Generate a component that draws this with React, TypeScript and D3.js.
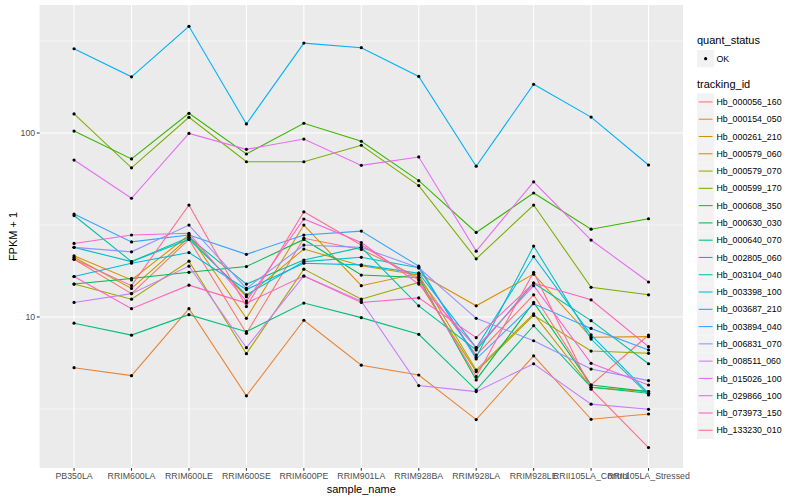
import React from "react";
import * as d3 from "d3";

const samples = [
  "PB350LA", "RRIM600LA", "RRIM600LE", "RRIM600SE", "RRIM600PE", "RRIM901LA",
  "RRIM928BA", "RRIM928LA", "RRIM928LE", "RRII105LA_Control", "RRII105LA_Stressed",
];

const trackingIds = [
  "Hb_000056_160", "Hb_000154_050", "Hb_000261_210", "Hb_000579_060", "Hb_000579_070",
  "Hb_000599_170", "Hb_000608_350", "Hb_000630_030", "Hb_000640_070", "Hb_002805_060",
  "Hb_003104_040", "Hb_003398_100", "Hb_003687_210", "Hb_003894_040", "Hb_006831_070",
  "Hb_008511_060", "Hb_015026_100", "Hb_029866_100", "Hb_073973_150", "Hb_133230_010",
];

const colors = [
  "#F8766D", "#EA8331", "#D89000", "#C09B00", "#A3A500", "#7CAE00", "#39B600", "#00BB4E",
  "#00BF7D", "#00C1A3", "#00BFC4", "#00BAE0", "#00B0F6", "#35A2FF", "#9590FF", "#C77CFF",
  "#E76BF3", "#FA62DB", "#FF62BC", "#FF6C91",
];

// FPKM + 1 per sample, in the order of `samples`
const hb_000056_160 = [20.6, 13.4, 26.4, 8.15, 26.8, 23.3, 16.4, 6.21, 13.2, 4.27, 7.98];
const hb_000154_050 = [5.3, 4.8, 11.1, 3.73, 9.6, 5.47, 4.84, 2.77, 6.15, 2.78, 2.97];
const hb_000261_210 = [21.5, 15.9, 27.9, 9.84, 31.6, 14.8, 17.3, 11.5, 17.1, 7.76, 7.82];
const hb_000579_060 = [21.1, 14.3, 27.1, 12.9, 23.4, 19.0, 16.9, 5.15, 10.4, 4.15, 3.93];
const hb_000579_070 = [15.1, 12.5, 20.1, 6.32, 18.2, 12.5, 15.4, 5.05, 10.2, 6.53, 6.35];
const hb_000599_170 = [127, 64.7, 121.7, 69.8, 69.8, 85.8, 51.8, 20.7, 40.6, 14.5, 13.2];
const hb_000608_350 = [102.5, 72.3, 128, 76.9, 113, 90.2, 55.1, 28.8, 47.2, 30.0, 34.2];
const hb_000630_030 = [15.1, 16.2, 17.5, 18.8, 26.4, 16.9, 16.4, 4.55, 12.0, 4.27, 3.93];
const hb_000640_070 = [9.25, 7.97, 10.3, 8.32, 11.9, 9.92, 8.05, 4.01, 8.97, 4.15, 3.85];
const hb_002805_060 = [35.6, 20.0, 27.1, 15.1, 20.4, 23.9, 11.5, 6.62, 15.3, 9.55, 5.57];
const hb_003104_040 = [23.9, 20.0, 26.4, 13.2, 20.0, 21.1, 18.5, 6.04, 24.3, 7.59, 3.77];
const hb_003398_100 = [16.6, 19.6, 22.4, 14.1, 19.6, 19.2, 17.3, 6.81, 21.3, 8.0, 3.85];
const hb_003687_210 = [287, 202, 380, 112, 308, 291, 203, 66, 184, 122, 67];
const hb_003894_040 = [36.3, 25.6, 27.9, 21.9, 27.9, 29.3, 18.9, 5.91, 11.8, 8.67, 6.62];
const hb_006831_070 = [23.9, 22.6, 31.6, 14.3, 24.6, 23.9, 18.5, 9.84, 7.43, 5.21, 4.51];
const hb_008511_060 = [12.0, 13.4, 18.9, 6.81, 16.7, 12.2, 4.24, 3.93, 5.57, 3.36, 3.15];
const hb_015026_100 = [71.3, 44.2, 99.5, 81.5, 92.7, 66.7, 74.1, 22.8, 54.3, 26.2, 15.5];
const hb_029866_100 = [25.1, 27.9, 28.5, 12.2, 34.1, 25.4, 15.1, 6.81, 14.8, 5.6, 4.27];
const hb_073973_150 = [16.6, 11.1, 14.9, 11.9, 16.7, 12.0, 12.7, 7.72, 15.3, 12.4, 6.9];
const hb_133230_010 = [20.6, 14.8, 40.6, 11.4, 37.3, 24.6, 15.9, 4.74, 17.5, 4.05, 1.95];

const seriesValues = [
  hb_000056_160, hb_000154_050, hb_000261_210, hb_000579_060, hb_000579_070,
  hb_000599_170, hb_000608_350, hb_000630_030, hb_000640_070, hb_002805_060,
  hb_003104_040, hb_003398_100, hb_003687_210, hb_003894_040, hb_006831_070,
  hb_008511_060, hb_015026_100, hb_029866_100, hb_073973_150, hb_133230_010,
];

const yTicks = [10, 100];
const yMinor = [Math.pow(10, 0.5), Math.pow(10, 1.5), Math.pow(10, 2.5)];

const FONT = "'Liberation Sans', Arial, Helvetica, sans-serif";

export default function App() {
  const W = 800, H = 500;
  const panel = { left: 39.6, right: 683, top: 5, bottom: 468 };

  const x = d3.scalePoint<string>().domain(samples).range([panel.left, panel.right]).padding(0.6);
  const y = d3.scaleLog().domain([1.511, 496.3]).range([panel.bottom, panel.top]);

  const line = d3
    .line<number>()
    .x((_, i) => x(samples[i]) as number)
    .y((v) => y(v));

  const legendX = 697;
  const keySize = 17.28;
  const tkTop = 93.3;

  return (
    <svg
      width={W}
      height={H}
      style={{ position: "absolute", left: 0, top: 0, background: "#FFFFFF" }}
      fontFamily={FONT}
    >
      <rect x={0} y={0} width={W} height={H} fill="#FFFFFF" />
      <rect
        x={panel.left}
        y={panel.top}
        width={panel.right - panel.left}
        height={panel.bottom - panel.top}
        fill="#EBEBEB"
      />
      {yMinor.map((t) => (
        <line key={"mn" + t} x1={panel.left} x2={panel.right} y1={y(t)} y2={y(t)} stroke="#FFFFFF" strokeWidth={0.53} />
      ))}
      {yTicks.map((t) => (
        <line key={"mj" + t} x1={panel.left} x2={panel.right} y1={y(t)} y2={y(t)} stroke="#FFFFFF" strokeWidth={1.07} />
      ))}
      {samples.map((s) => (
        <line key={"vx" + s} x1={x(s)} x2={x(s)} y1={panel.top} y2={panel.bottom} stroke="#FFFFFF" strokeWidth={1.07} />
      ))}

      {seriesValues.map((vals, i) => (
        <path key={"l" + i} d={line(vals) || ""} fill="none" stroke={colors[i]} strokeWidth={1.07} />
      ))}
      {seriesValues.map((vals, i) =>
        vals.map((v, j) => (
          <circle key={"p" + i + "-" + j} cx={x(samples[j])} cy={y(v)} r={1.6} fill="#000000" />
        ))
      )}

      {/* y axis */}
      {yTicks.map((t) => (
        <g key={"yt" + t}>
          <line x1={panel.left - 2.74} x2={panel.left} y1={y(t)} y2={y(t)} stroke="#333333" strokeWidth={1.07} />
          <text x={panel.left - 4.4} y={y(t)} dy="0.35em" textAnchor="end" fontSize={8.8} fill="#4D4D4D">
            {t}
          </text>
        </g>
      ))}
      {/* x axis */}
      {samples.map((s) => (
        <g key={"xt" + s}>
          <line x1={x(s)} x2={x(s)} y1={panel.bottom} y2={panel.bottom + 2.74} stroke="#333333" strokeWidth={1.07} />
          <text x={x(s)} y={panel.bottom + 11.3} textAnchor="middle" fontSize={8.8} fill="#4D4D4D">
            {s}
          </text>
        </g>
      ))}
      <text x={(panel.left + panel.right) / 2} y={493} textAnchor="middle" fontSize={11} fill="#000000">
        sample_name
      </text>
      <text
        transform={`translate(16.5, ${(panel.top + panel.bottom) / 2}) rotate(-90)`}
        textAnchor="middle"
        fontSize={11}
        fill="#000000"
      >
        FPKM + 1
      </text>

      {/* legend: quant_status */}
      <text x={legendX} y={44} fontSize={11} fill="#000000">quant_status</text>
      <rect x={legendX} y={50} width={keySize} height={keySize} fill="#F2F2F2" />
      <circle cx={legendX + keySize / 2} cy={50 + keySize / 2} r={1.6} fill="#000000" />
      <text x={legendX + keySize + 2.2} y={50 + keySize / 2} dy="0.35em" fontSize={8.8} fill="#000000">OK</text>

      {/* legend: tracking_id */}
      <text x={legendX} y={88} fontSize={11} fill="#000000">tracking_id</text>
      {trackingIds.map((id, i) => {
        const ty = tkTop + i * keySize;
        return (
          <g key={"lg" + id}>
            <rect x={legendX} y={ty} width={keySize} height={keySize} fill="#F2F2F2" />
            <line
              x1={legendX + 1.7}
              x2={legendX + keySize - 1.7}
              y1={ty + keySize / 2}
              y2={ty + keySize / 2}
              stroke={colors[i]}
              strokeWidth={1.07}
            />
            <text x={legendX + keySize + 2.2} y={ty + keySize / 2} dy="0.35em" fontSize={8.8} fill="#000000">
              {id}
            </text>
          </g>
        );
      })}
    </svg>
  );
}
